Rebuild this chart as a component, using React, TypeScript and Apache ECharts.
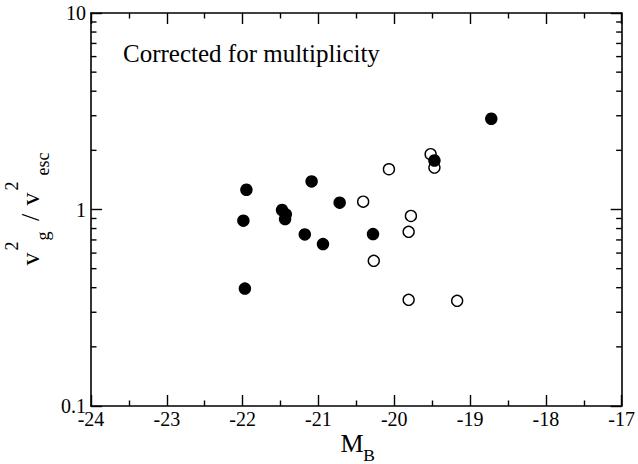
import React, { useEffect, useRef } from "react";
import * as echarts from "echarts";

const filledX = [-21.99, -21.95, -21.97, -21.48, -21.43, -21.44, -21.18, -21.09, -20.94, -20.72, -20.28, -19.47, -18.72];
const filledY = [0.877, 1.26, 0.396, 0.994, 0.945, 0.894, 0.747, 1.39, 0.667, 1.083, 0.75, 1.775, 2.895];
const openX = [-20.41, -20.07, -19.78, -19.81, -20.27, -19.81, -19.17, -19.52, -19.47];
const openY = [1.096, 1.603, 0.927, 0.77, 0.548, 0.347, 0.343, 1.912, 1.634];
const xMin = -24;
const xMax = -17;
const yMin = 0.1;
const yMax = 10;
const minorTickValues = [0.2, 0.3, 0.4, 0.5, 0.6, 0.7, 0.8, 0.9, 2, 3, 4, 5, 6, 7, 8, 9];
const annotation = "Corrected for multiplicity";

const FONT = "Liberation Serif";

function txt(text: string, x: number, y: number, size: number, rotation = 0) {
  return {
    type: "text",
    x,
    y,
    rotation,
    silent: true,
    style: {
      text,
      fill: "#000",
      font: `${size}px ${FONT}`,
      fontSize: size,
      fontFamily: FONT,
      align: "left",
      verticalAlign: "middle",
      textAlign: "left",
      textVerticalAlign: "middle",
    },
  };
}

export default function App() {
  const ref = useRef<HTMLDivElement>(null);
  useEffect(() => {
    if (!ref.current) return;
    const chart = echarts.init(ref.current, null, { renderer: "svg" });
    const axisLine = { show: true, onZero: false, lineStyle: { color: "#000", width: 1.6 } };
    const tick = { show: true, inside: true, length: 11, lineStyle: { color: "#000", width: 1.4 } };
    const label = { color: "#000", fontFamily: FONT, fontSize: 20 };
    const R = Math.PI / 2;
    const texts = [
      txt(annotation, 123, 53.3, 25),
      txt("M", 340.5, 443, 26),
      txt("B", 363.3, 455, 17.5),
      txt("v", 30.2, 265.5, 26, R),
      txt("2", 12.4, 250.5, 18, R),
      txt("g", 43.3, 240.5, 18, R),
      txt("/", 30.2, 221, 26, R),
      txt("v", 30.2, 205.5, 26, R),
      txt("2", 12.4, 190.5, 18, R),
      txt("esc", 43.3, 175.5, 18, R),
    ];
    chart.setOption({
      animation: false,
      backgroundColor: "#fff",
      grid: { left: 91, right: 15, top: 13, bottom: 58, containLabel: false },
      xAxis: [
        {
          type: "value", min: xMin, max: xMax, interval: 1, position: "bottom",
          axisLine, axisTick: tick,
          minorTick: { show: true, splitNumber: 2, length: 5.5, lineStyle: { color: "#000", width: 1.4 } },
          axisLabel: { ...label, margin: 3 },
          splitLine: { show: false }, minorSplitLine: { show: false },
        },
        {
          type: "value", min: xMin, max: xMax, interval: 1, position: "top",
          axisLine, axisTick: tick,
          minorTick: { show: true, splitNumber: 2, length: 5.5, lineStyle: { color: "#000", width: 1.4 } },
          axisLabel: { show: false },
          splitLine: { show: false }, minorSplitLine: { show: false },
        },
      ],
      yAxis: [
        {
          type: "log", logBase: 10, min: yMin, max: yMax, position: "left",
          axisLine, axisTick: tick,
          axisLabel: { ...label, margin: 5, formatter: (v: number) => String(v) },
          splitLine: { show: false },
        },
        {
          type: "log", logBase: 10, min: yMin, max: yMax, position: "right",
          axisLine, axisTick: tick,
          axisLabel: { show: false },
          splitLine: { show: false },
        },
      ],
      series: [
        {
          type: "scatter",
          symbol: "circle",
          symbolSize: 11,
          itemStyle: { color: "#fff", borderColor: "#000", borderWidth: 1.4, opacity: 1 },
          data: openX.map((x, i) => [x, openY[i]]),
          z: 3,
        },
        {
          type: "scatter",
          symbol: "circle",
          symbolSize: 12.5,
          itemStyle: { color: "#000", opacity: 1 },
          data: filledX.map((x, i) => [x, filledY[i]]),
          z: 4,
        },
      ],
      graphic: texts,
    });
    // minor ticks of the log axes, placed through the chart's own scales
    const lines: any[] = [];
    minorTickValues.forEach((v) => {
      const l = chart.convertToPixel({ gridIndex: 0 }, [xMin, v]) as number[];
      const r = chart.convertToPixel({ gridIndex: 0 }, [xMax, v]) as number[];
      if (!l || !r) return;
      lines.push({
        type: "line", silent: true, z: 10,
        shape: { x1: l[0], y1: l[1], x2: l[0] + 5.5, y2: l[1] },
        style: { stroke: "#000", lineWidth: 1.4 },
      });
      lines.push({
        type: "line", silent: true, z: 10,
        shape: { x1: r[0], y1: r[1], x2: r[0] - 5.5, y2: r[1] },
        style: { stroke: "#000", lineWidth: 1.4 },
      });
    });
    chart.setOption({ graphic: [...texts, ...lines] }, { replaceMerge: ["graphic"] });
    return () => chart.dispose();
  }, []);
  return (
    <div
      ref={ref}
      style={{ position: "fixed", left: 0, top: 0, width: 638, height: 464, background: "#fff" }}
    />
  );
}
